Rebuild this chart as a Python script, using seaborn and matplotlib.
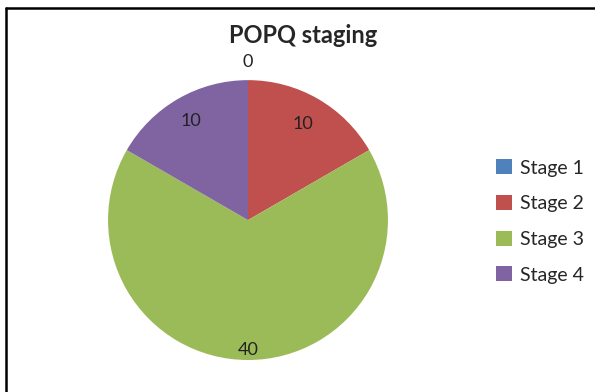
import numpy as np
import matplotlib
matplotlib.use("Agg")
import matplotlib.pyplot as plt
import seaborn as sns
from matplotlib.lines import Line2D
from matplotlib.patches import Patch

stages = ["Stage 1", "Stage 2", "Stage 3", "Stage 4"]
counts = [0, 10, 40, 10]
colors = ["#4F81BD", "#C0504D", "#9BBB59", "#8064A2"]
label_dist = [1.13, 0.79, 0.93, 0.82]

sns.set_style("white")
plt.rcParams["font.family"] = ["Lato", "DejaVu Sans"]

fig = plt.figure(figsize=(5.95, 3.92), dpi=100)
ax = fig.add_axes([0.1815, 0.0816, 0.4706, 0.714])

wedges, _ = ax.pie(counts, colors=colors, startangle=90, counterclock=False,
                   radius=1.0, wedgeprops=dict(linewidth=0))
ax.set_xlim(-1, 1)
ax.set_ylim(-1, 1)
ax.set_aspect("equal")
ax.axis("off")

for w, v, d in zip(wedges, counts, label_dist):
    ang = np.deg2rad((w.theta1 + w.theta2) / 2)
    ax.text(d * np.cos(ang), d * np.sin(ang), str(v), ha="center", va="center",
            fontsize=13, color="#222222")

fig.text(0.509, 0.91, "POPQ staging", ha="center", va="center",
         fontsize=17, fontweight="bold")

handles = [Patch(facecolor=c, edgecolor="none") for c in colors]
fig.legend(handles, stages, loc="center left", bbox_to_anchor=(0.805, 0.435),
           frameon=False, fontsize=14, handlelength=0.8, handleheight=0.8,
           handletextpad=0.4, labelspacing=0.95)

# sheet border (top and left edges only)
fig.add_artist(Line2D([5.5 / 595, 1.0], [1 - 7.5 / 392, 1 - 7.5 / 392],
                      transform=fig.transFigure, color="black", linewidth=1.8))
fig.add_artist(Line2D([5.5 / 595, 5.5 / 595], [0.0, 1 - 7.5 / 392],
                      transform=fig.transFigure, color="black", linewidth=1.8))

fig.savefig("out.png", dpi=100)
